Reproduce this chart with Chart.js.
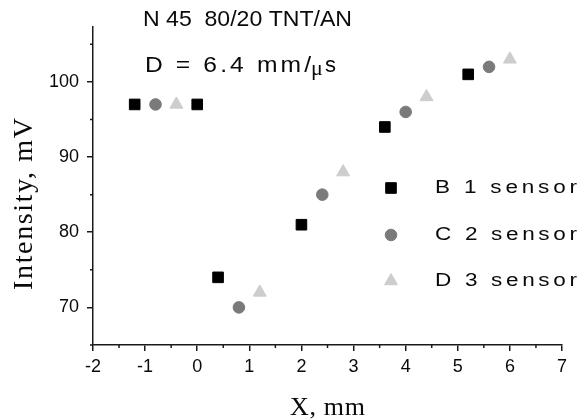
<!DOCTYPE html>
<html>
<head>
<meta charset="utf-8">
<script src="https://cdn.jsdelivr.net/npm/chart.js@4.4.1/dist/chart.umd.min.js"></script>
<style>
  html, body { margin: 0; padding: 0; background: #fff; }
  #wrap { width: 581px; height: 420px; }
</style>
</head>
<body>
<div id="wrap"><canvas id="chart" width="581" height="420"></canvas></div>
<script>
// values
const xTicks = [-2, -1, 0, 1, 2, 3, 4, 5, 6, 7];
const yTicks = [70, 80, 90, 100];
const seriesNames = ['B 1 sensor', 'C 2 sensor', 'D 3 sensor'];
const sensorB_x = [-1.2, 0, 0.4, 2, 3.6, 5.2];
const sensorB_y = [97, 97, 74, 81, 94, 101];
const sensorC_x = [-0.8, 0.8, 2.4, 4, 5.6];
const sensorC_y = [97, 70, 85, 96, 102];
const sensorD_x = [-0.4, 1.2, 2.8, 4.4, 6];
const sensorD_y = [97, 72, 88, 98, 103];

const toPoints = (xs, ys) => xs.map((x, i) => ({ x: x, y: ys[i] }));

const AXIS = '#1a1a1a';
const TEXT = '#0a0a0a';
const sans = '"Liberation Sans", Arial, sans-serif';
const serif = '"Liberation Serif", "Times New Roman", serif';

const styles = [
  { style: 'rect', radius: 7.5, color: '#000000' },
  { style: 'circle', radius: 5.8, color: '#7a7a7a' },
  { style: 'triangle', radius: 7.5, color: '#cdcdcd' }
];

// draw text widened (sx) and letter spaced so it ends up `width` px wide
function spaced(ctx, text, x, y, font, width, sx) {
  sx = sx || 1;
  ctx.save();
  ctx.font = font;
  ctx.letterSpacing = '0px';
  const w = ctx.measureText(text).width;
  const sp = (width / sx - w) / (text.length - 1);
  ctx.letterSpacing = sp + 'px';
  ctx.translate(x, y);
  ctx.scale(sx, 1);
  ctx.fillText(text, 0, 0);
  ctx.restore();
}

const extras = {
  id: 'extras',
  afterDraw(chart) {
    const ctx = chart.ctx;
    const xs = chart.scales.x, ys = chart.scales.y;
    const area = chart.chartArea;
    ctx.save();

    // minor ticks
    ctx.strokeStyle = AXIS;
    ctx.lineWidth = 1.5;
    ctx.beginPath();
    for (let v = -1.5; v < 7; v += 1) {
      const px = xs.getPixelForValue(v);
      ctx.moveTo(px, area.bottom);
      ctx.lineTo(px, area.bottom + 3);
    }
    for (let v = 65; v <= 105; v += 10) {
      const py = ys.getPixelForValue(v);
      ctx.moveTo(area.left, py);
      ctx.lineTo(area.left - 3, py);
    }
    ctx.stroke();

    ctx.fillStyle = TEXT;
    ctx.textBaseline = 'middle';
    ctx.textAlign = 'left';

    // header text
    spaced(ctx, 'N 45  80/20 TNT/AN', 143, 20, '22px ' + sans, 209, 1.05);
    spaced(ctx, 'D = 6.4 mm/', 145, 66, '22px ' + sans, 166, 1.12);
    ctx.font = '22px ' + serif;
    ctx.fillText('\u03bc', 311, 69);
    ctx.font = '22px ' + sans;
    ctx.fillText('s', 325, 66);

    // legend
    const helpers = Chart.helpers;
    const legendY = [188, 235, 281];
    seriesNames.forEach((name, i) => {
      const s = styles[i];
      ctx.fillStyle = s.color;
      ctx.strokeStyle = s.color;
      ctx.lineWidth = 1;
      helpers.drawPoint(ctx, { pointStyle: s.style, radius: s.radius, borderWidth: 1 }, 391, legendY[i]);
      ctx.fillStyle = TEXT;
      spaced(ctx, name, 435, legendY[i], '18px ' + sans, 142, 1.25);
    });

    // axis titles
    ctx.fillStyle = TEXT;
    ctx.textAlign = 'left';
    ctx.textBaseline = 'alphabetic';
    spaced(ctx, 'X, mm', 290, 415, '26px ' + serif, 75);
    ctx.translate(32, 290);
    ctx.rotate(-Math.PI / 2);
    spaced(ctx, 'Intensity, mV', 0, 0, '28px ' + serif, 172);
    ctx.restore();
  }
};

const datasets = [
  toPoints(sensorB_x, sensorB_y),
  toPoints(sensorC_x, sensorC_y),
  toPoints(sensorD_x, sensorD_y)
].map((pts, i) => ({
  label: seriesNames[i],
  data: pts,
  pointStyle: styles[i].style,
  pointRadius: styles[i].radius,
  pointBackgroundColor: styles[i].color,
  pointBorderColor: styles[i].color,
  pointBorderWidth: 1,
  showLine: false
}));

new Chart(document.getElementById('chart'), {
  type: 'scatter',
  data: { datasets: datasets },
  plugins: [extras],
  options: {
    responsive: false,
    animation: false,
    devicePixelRatio: 1,
    layout: { padding: { top: 27, right: 19, left: 0, bottom: 0 } },
    plugins: { legend: { display: false }, tooltip: { enabled: false } },
    scales: {
      x: {
        type: 'linear',
        min: -2,
        max: 7,
        afterBuildTicks: (s) => { s.ticks = xTicks.map(v => ({ value: v })); },
        afterFit: (s) => { s.height = 75; },
        grid: { display: true, drawOnChartArea: false, drawTicks: true, tickLength: 6, color: AXIS, lineWidth: 1.5 },
        border: { display: true, color: AXIS, width: 1.5 },
        ticks: { color: TEXT, font: { family: sans, size: 18 }, padding: 5, maxRotation: 0, autoSkip: false }
      },
      y: {
        type: 'linear',
        min: 65,
        max: 107.3,
        afterBuildTicks: (s) => { s.ticks = yTicks.map(v => ({ value: v })); },
        afterFit: (s) => { s.width = 93; },
        grid: { display: true, drawOnChartArea: false, drawTicks: true, tickLength: 6, color: AXIS, lineWidth: 1.5 },
        border: { display: true, color: AXIS, width: 1.5 },
        ticks: { color: TEXT, font: { family: sans, size: 18 }, padding: 8, autoSkip: false }
      }
    }
  }
});
</script>
</body>
</html>
